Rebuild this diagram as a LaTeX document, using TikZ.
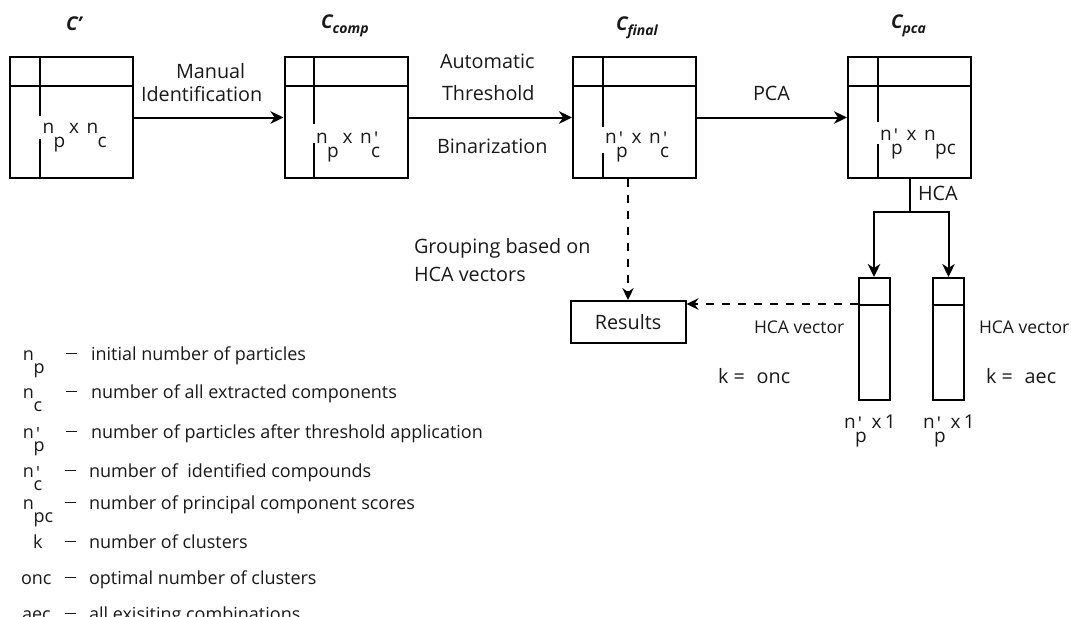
\documentclass[tikz,border=0pt]{standalone}
\usepackage{fontspec}
\setmainfont{Open Sans}
\usetikzlibrary{arrows.meta,calc}
\definecolor{ink}{gray}{0.1}

% lowered subscript at full size, and a prime stacked above it
\newcommand\lo[1]{\kern-0.03em\raisebox{-0.75em}{#1}}
\newcommand\pr{\rlap{\kern0.12em\raisebox{-0.12em}{\textquotesingle}}}
\newcommand\lblfont{\fontsize{19.8}{23}\selectfont}
\newcommand\mtxfont{\fontsize{19}{22}\selectfont}
\newcommand\legfont{\fontsize{18}{22}\selectfont}
\newcommand\vecfont{\fontsize{17.5}{21}\selectfont}
\newcommand\mtitle[2]{{\fontsize{19}{22}\selectfont\bfseries\itshape #1\raisebox{-0.3em}{\fontsize{14}{15}\selectfont #2}}}
\newcommand\legdash{\rule[0.33em]{11pt}{1.3pt}}

\begin{document}
\begin{tikzpicture}[x=1pt,y=-1pt,line width=2pt,
  mtx/.style={draw,rectangle,minimum width=123pt,minimum height=121pt,inner sep=0pt},
  vecbox/.style={draw,rectangle,minimum width=31pt,minimum height=122pt,inner sep=0pt},
  resbox/.style={draw,rectangle,minimum width=115pt,minimum height=42pt,inner sep=0pt,text=ink,font=\lblfont},
  arr/.style={-{Stealth[length=13pt,width=12.5pt,inset=4pt]}},
  darr/.style={dash pattern=on 8pt off 8pt,-{Stealth[length=12pt,width=11.5pt,inset=4pt]}},
  lbl/.style={anchor=base west,inner sep=0pt,text=ink,font=\lblfont},
  mlbl/.style={anchor=base west,inner sep=0pt,text=ink,font=\mtxfont},
  vlbl/.style={anchor=base west,inner sep=0pt,text=ink,font=\vecfont},
  leg/.style={anchor=base west,inner sep=0pt,text=ink,font=\legfont},
  ttl/.style={anchor=base west,inner sep=0pt,text=ink}]
\fill[white] (0,0) rectangle (1071,616);
\useasboundingbox (0,0) rectangle (1071,616);

% ---- the four matrices ----
\node[mtx] (m1) at (71.5,117.5) {};
\node[mtx] (m2) at (346,117.5) {};
\node[mtx] (m3) at (634.5,117.5) {};
\node[mtx] (m4) at (909.5,117.5) {};

\foreach \m/\dx/\up/\dn in {m1/31/60/40, m2/30/68/36, m3/31/71/26, m4/31/66/35}{
  \draw ([yshift=-30pt]\m.north west) -- ([yshift=-30pt]\m.north east);
  \draw ([xshift=\dx pt]\m.north west) -- ++(0,\up);
  \draw ([xshift=\dx pt]\m.south west) -- ++(0,-\dn);
}

\node[mlbl] (d1) at (41.5,133) {n\lo{p}\hspace{0.2em}x\hspace{0.4em}n\lo{c}};
\node[mlbl] (d2) at (315,143) {n\lo{p}\hspace{0.2em}x\hspace{0.4em}n\pr\lo{c}};
\node[mlbl] (d3) at (604,143) {n\pr\lo{p}\hspace{0.2em}x\hspace{0.4em}n\pr\lo{c}};
\node[mlbl] (d4) at (879,140) {n\pr\lo{p}\hspace{0.2em}x\hspace{0.4em}n\lo{pc}};

% ---- titles ----
\node[ttl] (c1) at (65,30) {\mtitle{C'}{}};
\node[ttl] (c2) at (320,28) {\mtitle{C}{comp}};
\node[ttl] (c3) at (615,30) {\mtitle{C}{final}};
\node[ttl] (c4) at (890,28) {\mtitle{C}{pca}};

% ---- main flow ----
\draw[arr] (m1) -- (m2);
\draw[arr] (m2) -- (m3);
\draw[arr] (m3) -- (m4);

\node[lbl] (l1a) at (175,78) {Manual};
\node[lbl] (l1b) at (140,101) {Identification};
\node[lbl] (l2a) at (439,68) {Automatic};
\node[lbl] (l2b) at (441,100) {Threshold};
\node[lbl] (l2c) at (436,153) {Binarization};
\node[lbl] (l3) at (752,100) {PCA};

% ---- clustering ----
\node[vecbox] (v1) at (874,339) {};
\node[vecbox] (v2) at (948.5,339) {};
\draw ([yshift=-28pt]v1.north west) -- ([yshift=-28pt]v1.north east);
\draw ([yshift=-28pt]v2.north west) -- ([yshift=-28pt]v2.north east);

\coordinate (br) at (909.5,212);
\draw (m4.south) -- (br);
\draw[arr] (br) -| (v1.north);
\draw[arr] (br) -| (v2.north);
\node[lbl] (hca) at (917,200) {HCA};

\node[resbox] (res) at (628,322) {Results};
\draw[darr] (m3.south -| res.north) -- (res.north);
\coordinate (v1d) at ([yshift=-27pt]v1.north west);
\draw[darr] (v1d) -- (res.east |- v1d);

\node[lbl] (g1) at (413,253) {Grouping based on};
\node[lbl] (g2) at (413,281) {HCA vectors};

\node[vlbl] (h1) at (753,333) {HCA vector};
\node[vlbl] (h2) at (978,333) {HCA vector};
\node[lbl] (k1) at (717,383) {k =\hspace{0.6em}onc};
\node[lbl] (k2) at (985,383) {k =\hspace{0.6em}aec};

\node[mlbl] (s1) at (843,428) {n\pr\lo{p}\ x\,1};
\node[mlbl] (s2) at (922,428) {n\pr\lo{p}\ x\,1};

% ---- legend ----
\foreach \y/\sx/\sym/\dx/\tx/\txt in {
  360/22/{n\lo{p}}/65/90/{initial number of particles},
  398/22/{n\lo{c}}/65/90/{number of all extracted components},
  438/22/{n\pr\lo{p}}/65/90/{number of particles after threshold application},
  477/22/{n\pr\lo{c}}/64/88/{number of\ \ identified compounds},
  509/22/{n\lo{pc}}/64/88/{number of principal component scores},
  548/32/{k}/64/88/{number of clusters},
  584/20/{onc}/64/88/{optimal number of clusters},
  620/21/{aec}/64/88/{all exisiting combinations}}{
  \node[leg] at (\sx,\y) {\sym};
  \node[leg] at (\dx,\y) {\legdash};
  \node[leg] at (\tx,\y) {\txt};
}
\end{tikzpicture}
\end{document}
